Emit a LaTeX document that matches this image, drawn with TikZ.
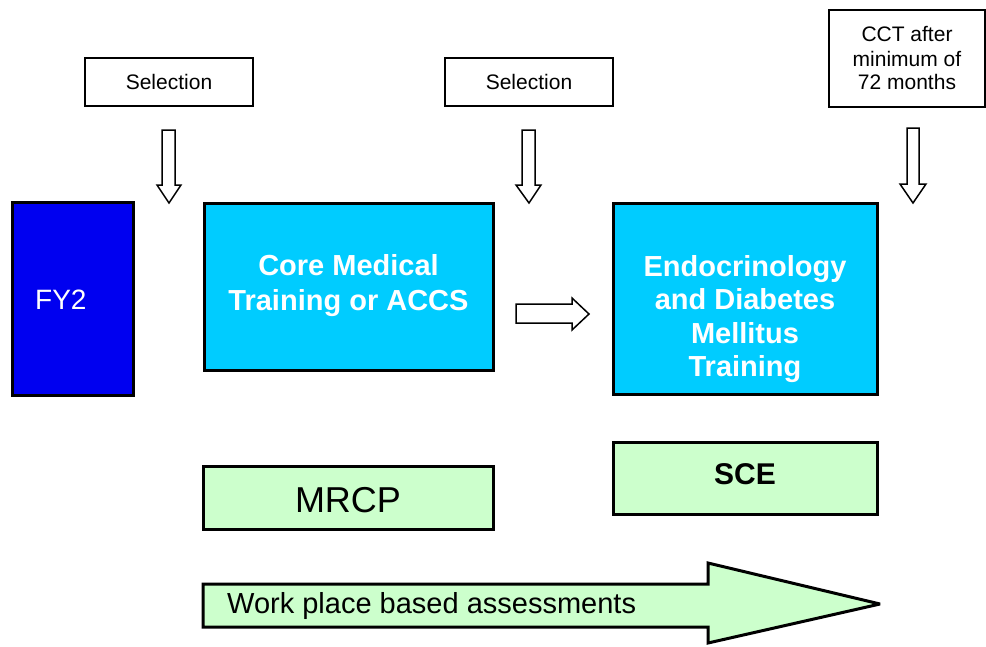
\documentclass[tikz,border=0pt]{standalone}
\usepackage{fontspec}
\setmainfont{Liberation Sans}
\definecolor{fyblue}{RGB}{0,0,240}
\definecolor{cmcyan}{RGB}{0,204,255}
\definecolor{lgreen}{RGB}{204,255,204}
\begin{document}
\begin{tikzpicture}[x=1pt,y=-1pt,
  smallbox/.style={draw=black,line width=1.5pt,fill=white,inner sep=0pt,align=center,font=\fontsize{21}{24}\selectfont},
  bigbox/.style={draw=black,line width=3pt,inner sep=0pt},
  hollow/.style={draw=black,line width=1.5pt,fill=white,line join=miter},
  boldtxt/.style={text=white,font=\fontsize{29}{35}\selectfont\bfseries,align=center,inner sep=0pt}]
\useasboundingbox[fill=white] (0,0) rectangle (986,646);

% top boxes
\node[smallbox,minimum width=168pt,minimum height=48pt] (sel1) at (169,82) {Selection};
\node[smallbox,minimum width=168pt,minimum height=48pt] (sel2) at (529,82) {Selection};
\node[smallbox,minimum width=156pt,minimum height=97pt] (cct) at (907,58.5) {CCT after\\minimum of\\72 months};

% main boxes
\node[bigbox,fill=fyblue,minimum width=121pt,minimum height=193pt] (fy2) at (72.5,298.5) {};
\node[text=white,font=\fontsize{28}{32}\selectfont,anchor=west,inner sep=0pt] (fy2t) at (35,300) {FY2};

\node[bigbox,fill=cmcyan,minimum width=289pt,minimum height=167pt] (cmt) at (348.5,286.5) {};
\node[boldtxt] (cmtt) at (348.5,285.5) {Core Medical\\Training or ACCS};

\node[bigbox,fill=cmcyan,minimum width=264pt,minimum height=191pt] (endo) at (745,298.5) {};
\node[boldtxt,font=\fontsize{29}{33.3}\selectfont\bfseries] (endot) at (745,319) {Endocrinology\\and Diabetes\\Mellitus\\Training};

\node[bigbox,fill=lgreen,minimum width=264pt,minimum height=72pt] (sce) at (745,478) {};
\node[font=\fontsize{30}{34}\selectfont\bfseries,inner sep=0pt] (scet) at (745,474) {SCE};

\node[bigbox,fill=lgreen,minimum width=290pt,minimum height=63pt] (mrcp) at (348,497.5) {};
\node[font=\fontsize{36}{40}\selectfont,inner sep=0pt] (mrcpt) at (348,500) {MRCP};

% down arrows
\draw[hollow] (162,130) -- (175,130) -- (175,185) -- (181,185) -- (169,203) -- (157,185) -- (162,185) -- cycle;
\draw[hollow] (522,130) -- (535,130) -- (535,185) -- (541,185) -- (529,203) -- (516,185) -- (522,185) -- cycle;
\draw[hollow] (907,128) -- (919,128) -- (919,184) -- (926,184) -- (913,203) -- (900,184) -- (907,184) -- cycle;

% right arrow
\draw[hollow] (516,304) -- (572,304) -- (572,298) -- (589,314) -- (572,330) -- (572,323) -- (516,323) -- cycle;

% big arrow
\draw[draw=black,line width=3pt,fill=lgreen,line join=miter,miter limit=4]
  (203,584) -- (708,584) -- (708,563) -- (880,604) -- (708,643) -- (708,627) -- (203,627) -- cycle;
\node[font=\fontsize{29}{33}\selectfont,anchor=west,inner sep=0pt] (wpba) at (227,606) {Work place based assessments};
\end{tikzpicture}
\end{document}
